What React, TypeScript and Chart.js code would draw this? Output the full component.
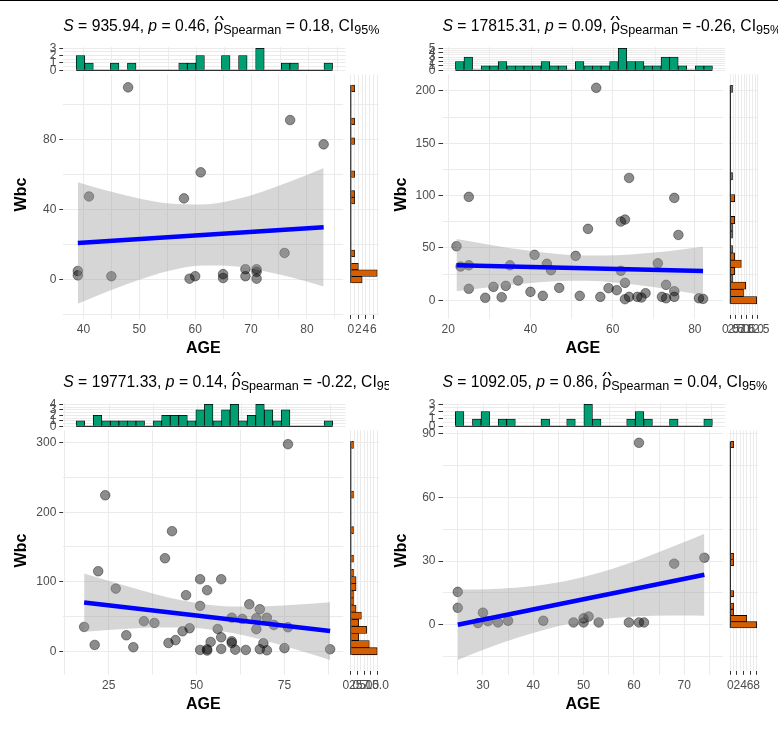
import React, { useEffect, useRef } from "react";
import { Chart, registerables } from "chart.js";

Chart.register(...registerables);

const FONT = '"Liberation Sans", Arial, Helvetica, sans-serif';
const GRID = "#EBEBEB";
const TICK_DARK = "#333333";
const LABEL = "#4D4D4D";
const GREEN = "#009E73";
const ORANGE = "#D55E00";

// ---------------- Panel 1 (top-left) ----------------
const p1Age = [48, 77, 83, 61, 41, 58, 76, 39, 39, 45, 59, 60, 65, 65, 69, 69, 71, 71, 71];
const p1Wbc = [110, 91.3, 77.4, 61.4, 47.6, 46.5, 15.3, 5, 2.5, 2, 0.6, 2, 3.2, 1, 6, 2, 6, 4.5, 0.6];
const p1FitAge = [39, 83];
const p1FitWbc = [21.0, 30.0];
const p1BandAge = [39, 45, 50, 55, 61.4, 67, 72, 77, 83];
const p1BandUpper = [55.8, 50.3, 46.5, 43.7, 43.0, 45.7, 50.3, 56.1, 63.9];
const p1BandLower = [-13.8, -5.9, 0.0, 4.9, 8.2, 7.7, 5.2, 1.5, -3.9];
const p1AgeBinFirst = 39.448;
const p1AgeBinWidth = 1.5172;
const p1AgeCounts = [2, 1, 0, 0, 1, 0, 1, 0, 0, 0, 0, 0, 1, 1, 2, 0, 0, 2, 0, 2, 0, 3, 0, 0, 1, 1, 0, 0, 0, 1];
const p1WbcBinFirst = 0;
const p1WbcBinWidth = 3.772;
const p1WbcCounts = [3, 7, 2, 0, 1, 0, 0, 0, 0, 0, 0, 0, 1, 1, 0, 0, 1, 0, 0, 0, 0, 1, 0, 0, 1, 0, 0, 0, 0, 1];
const p1AgeRange = [36.4, 86.5];
const p1WbcRange = [-20.05, 117.45];
const p1AgeTicks = [40, 50, 60, 70, 80];
const p1AgeMinor = [45, 55, 65, 75, 85];
const p1WbcTicks = [0, 40, 80];
const p1WbcMinor = [-20, 20, 60, 100];
const p1TopCountRange = [-0.15, 3.15];
const p1TopCountTicks = [0, 1, 2, 3];
const p1SideCountRange = [-0.35, 7.35];
const p1SideCountTicks = [0, 2, 4, 6];
const p1SideCountMinor = [1, 3, 5, 7];
const p1SideCountLabels = ["0", "2", "4", "6"];
const p1Stats = ["935.94", "0.46", "0.18"];

// ---------------- Panel 2 (top-right) ----------------
const p2Age = [56, 25, 75, 64, 62, 63, 54, 76, 22, 23, 25, 35, 41, 44, 45, 51, 37, 34, 31, 25, 40, 47, 29, 33, 43, 52, 57, 59, 61, 62, 63, 63, 64, 66, 67, 68, 71, 73, 72, 73, 75, 75, 81, 82];
const p2Wbc = [203, 98.8, 97.8, 116.9, 75.2, 77.1, 68.2, 62.4, 51.6, 32.2, 33.4, 33.4, 43.4, 34.8, 28.7, 42.4, 18.8, 13.7, 12.8, 10.9, 8.0, 11.8, 2.3, 2.9, 4.2, 4.2, 3.2, 11.5, 9.6, 28.1, 16.6, 1.0, 3.2, 3.2, 2.6, 6.7, 35.3, 14.7, 3.2, 1.9, 8.6, 3.2, 1.9, 1.3];
const p2FitAge = [22, 82];
const p2FitWbc = [33.5, 28.0];
const p2BandAge = [22, 30, 38, 46, 53.7, 61, 68, 75, 82];
const p2BandUpper = [58.5, 53.1, 48.2, 44.5, 42.7, 43.0, 44.9, 47.6, 51.0];
const p2BandLower = [8.5, 12.5, 15.8, 18.1, 18.5, 16.8, 13.7, 9.6, 5.0];
const p2AgeBinFirst = 22.759;
const p2AgeBinWidth = 2.069;
const p2AgeCounts = [2, 3, 0, 1, 1, 2, 1, 1, 1, 1, 2, 1, 1, 0, 2, 1, 1, 1, 2, 5, 2, 2, 1, 1, 3, 3, 1, 0, 1, 1];
const p2WbcBinFirst = 0;
const p2WbcBinWidth = 6.966;
const p2WbcCounts = [12, 6, 7, 1, 2, 5, 2, 1, 0, 1, 1, 2, 0, 0, 2, 0, 0, 1, 0, 0, 0, 0, 0, 0, 0, 0, 0, 0, 0, 1];
const p2AgeRange = [18.6, 86.9];
const p2WbcRange = [-13.93, 215.95];
const p2AgeTicks = [20, 40, 60, 80];
const p2AgeMinor = [30, 50, 70];
const p2WbcTicks = [0, 50, 100, 150, 200];
const p2WbcMinor = [25, 75, 125, 175];
const p2TopCountRange = [-0.25, 5.25];
const p2TopCountTicks = [0, 1, 2, 3, 4, 5];
const p2SideCountRange = [-0.6, 12.6];
const p2SideCountTicks = [0, 2.5, 5, 7.5, 10, 12.5];
const p2SideCountMinor = [1.25, 3.75, 6.25, 8.75, 11.25];
const p2SideCountLabels = ["0.0", "2.5", "5.0", "7.5", "10.0", "12.5"];
const p2Stats = ["17815.31", "0.09", "-0.26"];

// ---------------- Panel 3 (bottom-left) ----------------
const p3Age = [76, 24, 43, 41, 22, 27, 51, 57, 53, 47, 51, 65, 68, 70, 67, 60, 63, 72, 76, 67, 18, 35, 38, 30, 32, 21, 42, 44, 46, 48, 54, 56, 57, 60, 60, 51, 53, 53, 57, 61, 64, 68, 69, 70, 75, 88];
const p3Wbc = [297.8, 224.4, 172.7, 133.8, 115.1, 90.1, 103.6, 103.6, 87.8, 80.6, 65.2, 67.6, 60.4, 48.3, 47.5, 48.3, 46.5, 37.8, 34.5, 31.7, 35.0, 43.2, 40.7, 23.0, 5.8, 9.1, 11.9, 16.0, 28.8, 33.1, 13.4, 32.1, 20.1, 14.4, 11.9, 1.9, 2.9, 1.0, 3.3, 2.3, 1.9, 2.9, 11.5, 1.4, 4.5, 2.9];
const p3FitAge = [18, 88];
const p3FitWbc = [70.0, 29.1];
const p3BandAge = [18, 28, 38, 46, 53.3, 61, 70, 79, 88];
const p3BandUpper = [111.9, 96.6, 82.4, 72.9, 67.0, 64.3, 64.8, 67.1, 70.4];
const p3BandLower = [28.1, 31.6, 34.2, 34.3, 31.7, 25.4, 14.4, 1.5, -12.4];
const p3AgeBinFirst = 16.897;
const p3AgeBinWidth = 2.4138;
const p3AgeCounts = [1, 0, 2, 1, 1, 1, 1, 1, 0, 1, 2, 2, 2, 1, 3, 4, 1, 3, 4, 1, 2, 4, 3, 1, 3, 0, 0, 0, 0, 1];
const p3WbcBinFirst = 0;
const p3WbcBinWidth = 10.24;
const p3WbcCounts = [10, 7, 3, 6, 3, 4, 2, 1, 1, 2, 2, 1, 0, 1, 0, 0, 0, 1, 0, 0, 0, 0, 1, 0, 0, 0, 0, 0, 0, 1];
const p3AgeRange = [12.07, 91.72];
const p3WbcRange = [-28.1, 317.8];
const p3AgeTicks = [25, 50, 75];
const p3AgeMinor = [12.5, 37.5, 62.5, 87.5];
const p3WbcTicks = [0, 100, 200, 300];
const p3WbcMinor = [50, 150, 250];
const p3TopCountRange = [-0.2, 4.2];
const p3TopCountTicks = [0, 1, 2, 3, 4];
const p3SideCountRange = [-0.5, 10.5];
const p3SideCountTicks = [0, 2.5, 5, 7.5, 10];
const p3SideCountMinor = [1.25, 3.75, 6.25, 8.75];
const p3SideCountLabels = ["0.0", "2.5", "5.0", "7.5", "10.0"];
const p3Stats = ["19771.33", "0.14", "-0.22"];

// ---------------- Panel 4 (bottom-right) ----------------
const p4Age = [61, 74, 68, 25, 25, 30, 29, 31, 33, 35, 42, 48, 50, 50, 51, 53, 59, 61, 62];
const p4Wbc = [85.8, 31.6, 28.8, 15.5, 8.0, 5.7, 0.8, 1.7, 1.1, 1.9, 1.9, 1.1, 1.1, 3.0, 3.9, 1.1, 1.1, 1.1, 1.1];
const p4FitAge = [25, 74];
const p4FitWbc = [0.0, 23.6];
const p4BandAge = [25, 31, 37, 43, 46.7, 52, 58, 64, 70, 74];
const p4BandUpper = [16.6, 16.8, 17.6, 19.2, 20.8, 23.8, 28.2, 33.4, 39.0, 42.9];
const p4BandLower = [-16.6, -11.0, -6.0, -1.9, 0.2, 2.2, 3.6, 4.2, 4.4, 4.3];
const p4AgeBinFirst = 25.345;
const p4AgeBinWidth = 1.6897;
const p4AgeCounts = [2, 0, 1, 2, 0, 1, 1, 0, 0, 0, 1, 0, 0, 1, 0, 3, 1, 0, 0, 0, 1, 2, 1, 0, 0, 1, 0, 0, 0, 1];
const p4WbcBinFirst = 0;
const p4WbcBinWidth = 2.931;
const p4WbcCounts = [8, 5, 1, 1, 0, 1, 0, 0, 0, 0, 1, 1, 0, 0, 0, 0, 0, 0, 0, 0, 0, 0, 0, 0, 0, 0, 0, 0, 0, 1];
const p4AgeRange = [21.97, 77.74];
const p4WbcRange = [-21.7, 91.7];
const p4AgeTicks = [30, 40, 50, 60, 70];
const p4AgeMinor = [25, 35, 45, 55, 65, 75];
const p4WbcTicks = [0, 30, 60, 90];
const p4WbcMinor = [-15, 15, 45, 75];
const p4TopCountRange = [-0.15, 3.15];
const p4TopCountTicks = [0, 1, 2, 3];
const p4SideCountRange = [-0.4, 8.4];
const p4SideCountTicks = [0, 2, 4, 6, 8];
const p4SideCountMinor = [1, 3, 5, 7];
const p4SideCountLabels = ["0", "2", "4", "6", "8"];
const p4Stats = ["1092.05", "0.86", "0.04"];

// ---------------- Layout (page pixels) ----------------
const COL_L = [63.3, 442.5];
const COL_R = [345.5, 725.3];
const SIDE_L = [349.5, 729];
const SIDE_R = [378.5, 758];
const ROW_T = [74.3, 430.3];
const ROW_B = [314.8, 670.8];
const TOP_T = [47.2, 403.2];
const TOP_B = [71.4, 427.4];
const YTITLE_X = [22, 401.5];
const XTITLE_Y = [349, 705];
const TITLE_BASE = [30.7, 386.7];
const CLIP_R = [389, 778];

interface Panel {
  col: number;
  row: number;
  age: number[];
  wbc: number[];
  fitAge: number[];
  fitWbc: number[];
  bandAge: number[];
  bandUpper: number[];
  bandLower: number[];
  ageBinFirst: number;
  ageBinWidth: number;
  ageCounts: number[];
  wbcBinFirst: number;
  wbcBinWidth: number;
  wbcCounts: number[];
  ageRange: number[];
  wbcRange: number[];
  ageTicks: number[];
  ageMinor: number[];
  wbcTicks: number[];
  wbcMinor: number[];
  topCountRange: number[];
  topCountTicks: number[];
  sideCountRange: number[];
  sideCountTicks: number[];
  sideCountMinor: number[];
  sideCountLabels: string[];
  stats: string[];
}

const panels: Panel[] = [
  { col: 0, row: 0, age: p1Age, wbc: p1Wbc, fitAge: p1FitAge, fitWbc: p1FitWbc, bandAge: p1BandAge, bandUpper: p1BandUpper, bandLower: p1BandLower, ageBinFirst: p1AgeBinFirst, ageBinWidth: p1AgeBinWidth, ageCounts: p1AgeCounts, wbcBinFirst: p1WbcBinFirst, wbcBinWidth: p1WbcBinWidth, wbcCounts: p1WbcCounts, ageRange: p1AgeRange, wbcRange: p1WbcRange, ageTicks: p1AgeTicks, ageMinor: p1AgeMinor, wbcTicks: p1WbcTicks, wbcMinor: p1WbcMinor, topCountRange: p1TopCountRange, topCountTicks: p1TopCountTicks, sideCountRange: p1SideCountRange, sideCountTicks: p1SideCountTicks, sideCountMinor: p1SideCountMinor, sideCountLabels: p1SideCountLabels, stats: p1Stats },
  { col: 1, row: 0, age: p2Age, wbc: p2Wbc, fitAge: p2FitAge, fitWbc: p2FitWbc, bandAge: p2BandAge, bandUpper: p2BandUpper, bandLower: p2BandLower, ageBinFirst: p2AgeBinFirst, ageBinWidth: p2AgeBinWidth, ageCounts: p2AgeCounts, wbcBinFirst: p2WbcBinFirst, wbcBinWidth: p2WbcBinWidth, wbcCounts: p2WbcCounts, ageRange: p2AgeRange, wbcRange: p2WbcRange, ageTicks: p2AgeTicks, ageMinor: p2AgeMinor, wbcTicks: p2WbcTicks, wbcMinor: p2WbcMinor, topCountRange: p2TopCountRange, topCountTicks: p2TopCountTicks, sideCountRange: p2SideCountRange, sideCountTicks: p2SideCountTicks, sideCountMinor: p2SideCountMinor, sideCountLabels: p2SideCountLabels, stats: p2Stats },
  { col: 0, row: 1, age: p3Age, wbc: p3Wbc, fitAge: p3FitAge, fitWbc: p3FitWbc, bandAge: p3BandAge, bandUpper: p3BandUpper, bandLower: p3BandLower, ageBinFirst: p3AgeBinFirst, ageBinWidth: p3AgeBinWidth, ageCounts: p3AgeCounts, wbcBinFirst: p3WbcBinFirst, wbcBinWidth: p3WbcBinWidth, wbcCounts: p3WbcCounts, ageRange: p3AgeRange, wbcRange: p3WbcRange, ageTicks: p3AgeTicks, ageMinor: p3AgeMinor, wbcTicks: p3WbcTicks, wbcMinor: p3WbcMinor, topCountRange: p3TopCountRange, topCountTicks: p3TopCountTicks, sideCountRange: p3SideCountRange, sideCountTicks: p3SideCountTicks, sideCountMinor: p3SideCountMinor, sideCountLabels: p3SideCountLabels, stats: p3Stats },
  { col: 1, row: 1, age: p4Age, wbc: p4Wbc, fitAge: p4FitAge, fitWbc: p4FitWbc, bandAge: p4BandAge, bandUpper: p4BandUpper, bandLower: p4BandLower, ageBinFirst: p4AgeBinFirst, ageBinWidth: p4AgeBinWidth, ageCounts: p4AgeCounts, wbcBinFirst: p4WbcBinFirst, wbcBinWidth: p4WbcBinWidth, wbcCounts: p4WbcCounts, ageRange: p4AgeRange, wbcRange: p4WbcRange, ageTicks: p4AgeTicks, ageMinor: p4AgeMinor, wbcTicks: p4WbcTicks, wbcMinor: p4WbcMinor, topCountRange: p4TopCountRange, topCountTicks: p4TopCountTicks, sideCountRange: p4SideCountRange, sideCountTicks: p4SideCountTicks, sideCountMinor: p4SideCountMinor, sideCountLabels: p4SideCountLabels, stats: p4Stats },
];

// ---------------- helpers ----------------
const tickFont = { family: FONT, size: 12 };
const axisTitleFont = { family: FONT, size: 16, weight: "bold" as const };

function tickSetup(majors: number[], minors: number[], labels?: string[]) {
  const all = [...majors, ...minors].sort((a, b) => a - b);
  const lab = new Map<number, string>();
  majors.forEach((v, i) => lab.set(v, labels ? labels[i] : String(v)));
  return {
    afterBuildTicks: (s: any) => {
      s.ticks = all.map((v) => ({ value: v }));
    },
    callback: (v: any) => lab.get(Number(v)) ?? "",
    darkTick: (ctx: any) => (ctx.tick && lab.has(ctx.tick.value) ? TICK_DARK : "rgba(0,0,0,0)"),
  };
}

function halfSteps(majors: number[]) {
  const out: number[] = [];
  for (let i = 0; i < majors.length - 1; i++) out.push((majors[i] + majors[i + 1]) / 2);
  return out;
}

interface Box {
  left: number;
  top: number;
  width: number;
  height: number;
  pad: { left: number; top: number; right: number; bottom: number };
}

function mainBox(p: Panel) {
  const c = p.col, r = p.row;
  const yTitleLeft = YTITLE_X[c] - 9.6;
  const left = Math.floor(yTitleLeft) - 2;
  const top = Math.floor(ROW_T[r]) - 14;
  const bottomEdge = XTITLE_Y[r] + 9.6;
  const bottom = Math.ceil(bottomEdge) + 1;
  const right = Math.ceil(COL_R[c]) + 3;
  const box: Box = {
    left, top, width: right - left, height: bottom - top,
    pad: { left: yTitleLeft - left, top: ROW_T[r] - top, right: right - COL_R[c], bottom: bottom - bottomEdge },
  };
  return { box, yW: COL_L[c] - yTitleLeft, xH: bottomEdge - ROW_B[r] };
}

function topBox(p: Panel) {
  const c = p.col, r = p.row;
  const left = Math.floor(COL_L[c]) - 30;
  const top = Math.floor(TOP_T[r]) - 14;
  const bottom = Math.ceil(TOP_B[r]) + 14;
  const right = Math.ceil(COL_R[c]) + 3;
  const box: Box = {
    left, top, width: right - left, height: bottom - top,
    pad: { left: 0, top: TOP_T[r] - top, right: right - COL_R[c], bottom: bottom - TOP_B[r] },
  };
  return { box, yW: COL_L[c] - left };
}

function sideBox(p: Panel) {
  const c = p.col, r = p.row;
  const left = Math.floor(SIDE_L[c]) - 12;
  const top = Math.floor(ROW_T[r]) - 14;
  const bottom = Math.ceil(ROW_B[r]) + 30;
  const right = Math.ceil(SIDE_R[c]) + 18;
  const box: Box = {
    left, top, width: right - left, height: bottom - top,
    pad: { left: SIDE_L[c] - left, top: ROW_T[r] - top, right: right - SIDE_R[c], bottom: 0 },
  };
  return { box, xH: bottom - ROW_B[r] };
}

const baseOptions = {
  animation: false as const,
  responsive: true,
  maintainAspectRatio: false,
  events: [] as any[],
  plugins: { legend: { display: false }, tooltip: { enabled: false } },
};

function mainConfig(p: Panel): any {
  const { box, yW, xH } = mainBox(p);
  const xt = tickSetup(p.ageTicks, p.ageMinor);
  const yt = tickSetup(p.wbcTicks, p.wbcMinor);
  const points = p.age.map((a, i) => ({ x: a, y: p.wbc[i] }));
  const fit = p.fitAge.map((a, i) => ({ x: a, y: p.fitWbc[i] }));
  const upper = p.bandAge.map((a, i) => ({ x: a, y: p.bandUpper[i] }));
  const lower = p.bandAge.map((a, i) => ({ x: a, y: p.bandLower[i] }));
  return {
    type: "scatter",
    data: {
      datasets: [
        { type: "line", data: fit, borderColor: "#0000FF", borderWidth: 4.5, pointRadius: 0, fill: false, order: 1 },
        { type: "line", data: upper, borderColor: "rgba(0,0,0,0)", borderWidth: 0, pointRadius: 0, fill: "+1", backgroundColor: "rgba(153,153,153,0.4)", tension: 0.4, cubicInterpolationMode: "monotone", order: 2 },
        { type: "line", data: lower, borderColor: "rgba(0,0,0,0)", borderWidth: 0, pointRadius: 0, fill: false, tension: 0.4, cubicInterpolationMode: "monotone", order: 2 },
        { type: "scatter", data: points, pointRadius: 4.8, pointBackgroundColor: "rgba(0,0,0,0.45)", pointBorderColor: "rgba(0,0,0,0.4)", pointBorderWidth: 1, order: 3 },
      ],
    },
    options: {
      ...baseOptions,
      layout: { padding: box.pad },
      scales: {
        x: {
          type: "linear", min: p.ageRange[0], max: p.ageRange[1],
          afterBuildTicks: xt.afterBuildTicks,
          afterFit: (s: any) => { s.height = xH; },
          ticks: { callback: xt.callback, autoSkip: false, maxRotation: 0, minRotation: 0, color: LABEL, font: tickFont, padding: 4 },
          grid: { color: GRID, lineWidth: 1, tickLength: 4, tickColor: GRID, drawTicks: true },
          border: { display: false },
          title: { display: true, text: "AGE", color: "#000000", font: axisTitleFont, padding: 0 },
        },
        y: {
          type: "linear", min: p.wbcRange[0], max: p.wbcRange[1],
          afterBuildTicks: yt.afterBuildTicks,
          afterFit: (s: any) => { s.width = yW; },
          ticks: { callback: yt.callback, autoSkip: false, color: LABEL, font: tickFont, padding: 3 },
          grid: { color: GRID, lineWidth: 1, tickLength: 4, tickColor: yt.darkTick, drawTicks: true },
          border: { display: false },
          title: { display: true, text: "Wbc", color: "#000000", font: axisTitleFont, padding: 0 },
        },
      },
    },
  };
}

function topConfig(p: Panel): any {
  const { box, yW } = topBox(p);
  const xt = tickSetup(p.ageTicks, p.ageMinor);
  const yt = tickSetup(p.topCountTicks, halfSteps(p.topCountTicks));
  const bars = p.ageCounts.map((c, i) => ({ x: p.ageBinFirst + i * p.ageBinWidth, y: c }));
  const lo = p.ageBinFirst - p.ageBinWidth / 2;
  const hi = p.ageBinFirst + (p.ageCounts.length - 0.5) * p.ageBinWidth;
  return {
    type: "bar",
    data: {
      datasets: [
        { type: "line", data: [{ x: lo, y: 0 }, { x: hi, y: 0 }], borderColor: "#000000", borderWidth: 1, pointRadius: 0, fill: false, order: 0 },
        { data: bars, backgroundColor: GREEN, borderColor: "#000000", borderWidth: 0.8, borderSkipped: "start", categoryPercentage: 1, barPercentage: 1, order: 1 },
      ],
    },
    options: {
      ...baseOptions,
      layout: { padding: box.pad },
      scales: {
        x: {
          type: "linear", min: p.ageRange[0], max: p.ageRange[1], offset: false,
          afterBuildTicks: xt.afterBuildTicks,
          afterFit: (s: any) => { s.height = 0; },
          ticks: { display: false },
          grid: { color: GRID, lineWidth: 1, drawTicks: false, offset: false },
          border: { display: false },
        },
        y: {
          type: "linear", min: p.topCountRange[0], max: p.topCountRange[1],
          afterBuildTicks: yt.afterBuildTicks,
          afterFit: (s: any) => { s.width = yW; },
          ticks: { callback: yt.callback, autoSkip: false, color: LABEL, font: tickFont, padding: 3 },
          grid: { color: GRID, lineWidth: 1, tickLength: 4, tickColor: yt.darkTick, drawTicks: true },
          border: { display: false },
        },
      },
    },
  };
}

function sideConfig(p: Panel): any {
  const { box, xH } = sideBox(p);
  const xt = tickSetup(p.sideCountTicks, p.sideCountMinor, p.sideCountLabels);
  const yt = tickSetup(p.wbcTicks, p.wbcMinor);
  const bars = p.wbcCounts.map((c, i) => ({ x: c, y: p.wbcBinFirst + i * p.wbcBinWidth }));
  const lo = p.wbcBinFirst - p.wbcBinWidth / 2;
  const hi = p.wbcBinFirst + (p.wbcCounts.length - 0.5) * p.wbcBinWidth;
  return {
    type: "bar",
    data: {
      datasets: [
        { type: "line", data: [{ x: 0, y: lo }, { x: 0, y: hi }], borderColor: "#000000", borderWidth: 1, pointRadius: 0, fill: false, order: 0 },
        { data: bars, backgroundColor: ORANGE, borderColor: "#000000", borderWidth: 0.8, borderSkipped: "start", categoryPercentage: 1, barPercentage: 1, order: 1 },
      ],
    },
    options: {
      ...baseOptions,
      indexAxis: "y",
      layout: { padding: box.pad },
      scales: {
        x: {
          type: "linear", min: p.sideCountRange[0], max: p.sideCountRange[1], offset: false,
          afterBuildTicks: xt.afterBuildTicks,
          afterFit: (s: any) => { s.height = xH; },
          ticks: { callback: xt.callback, autoSkip: false, maxRotation: 0, minRotation: 0, color: LABEL, font: tickFont, padding: 4 },
          grid: { color: GRID, lineWidth: 1, tickLength: 4, tickColor: xt.darkTick, drawTicks: true, offset: false },
          border: { display: false },
        },
        y: {
          type: "linear", min: p.wbcRange[0], max: p.wbcRange[1], offset: false,
          afterBuildTicks: yt.afterBuildTicks,
          afterFit: (s: any) => { s.width = 0; },
          ticks: { display: false },
          grid: { color: GRID, lineWidth: 1, drawTicks: false, offset: false },
          border: { display: false },
        },
      },
    },
  };
}

function ChartBox({ box, make }: { box: Box; make: () => any }) {
  const ref = useRef<HTMLCanvasElement | null>(null);
  useEffect(() => {
    if (!ref.current) return;
    const chart = new Chart(ref.current, make());
    return () => chart.destroy();
  }, []);
  return (
    <div style={{ position: "absolute", left: box.left, top: box.top, width: box.width, height: box.height }}>
      <canvas ref={ref} />
    </div>
  );
}

function PanelTitle({ p }: { p: Panel }) {
  const left = COL_L[p.col];
  const top = TITLE_BASE[p.row] - 14.9;
  const sub: React.CSSProperties = { fontSize: 12.6, position: "relative", top: 3 };
  return (
    <div
      style={{
        position: "absolute", left, top, width: CLIP_R[p.col] - left, height: 24,
        overflow: "hidden", whiteSpace: "nowrap", fontFamily: FONT, fontSize: 15.7,
        lineHeight: "19px", color: "#000000",
      }}
    >
      <i>S</i> = {p.stats[0]}, <i>p</i> = {p.stats[1]},{" "}
      <span style={{ position: "relative" }}>
        ρ
        <span style={{ position: "absolute", left: 1.5, top: -6, fontSize: 14, transform: "scaleX(1.5)", transformOrigin: "center" }}>^</span>
      </span>
      <span style={sub}>Spearman</span> = {p.stats[2]}, CI<span style={sub}>95%</span>
    </div>
  );
}

export default function App() {
  return (
    <div style={{ position: "absolute", left: 0, top: 0, width: 778, height: 731, background: "#FFFFFF", overflow: "hidden" }}>
      <div style={{ position: "absolute", left: 0, top: 0, width: 778, height: 1, background: "#000000" }} />
      {panels.map((p, i) => (
        <React.Fragment key={i}>
          <ChartBox box={topBox(p).box} make={() => topConfig(p)} />
          <ChartBox box={mainBox(p).box} make={() => mainConfig(p)} />
          <ChartBox box={sideBox(p).box} make={() => sideConfig(p)} />
          <PanelTitle p={p} />
        </React.Fragment>
      ))}
    </div>
  );
}
